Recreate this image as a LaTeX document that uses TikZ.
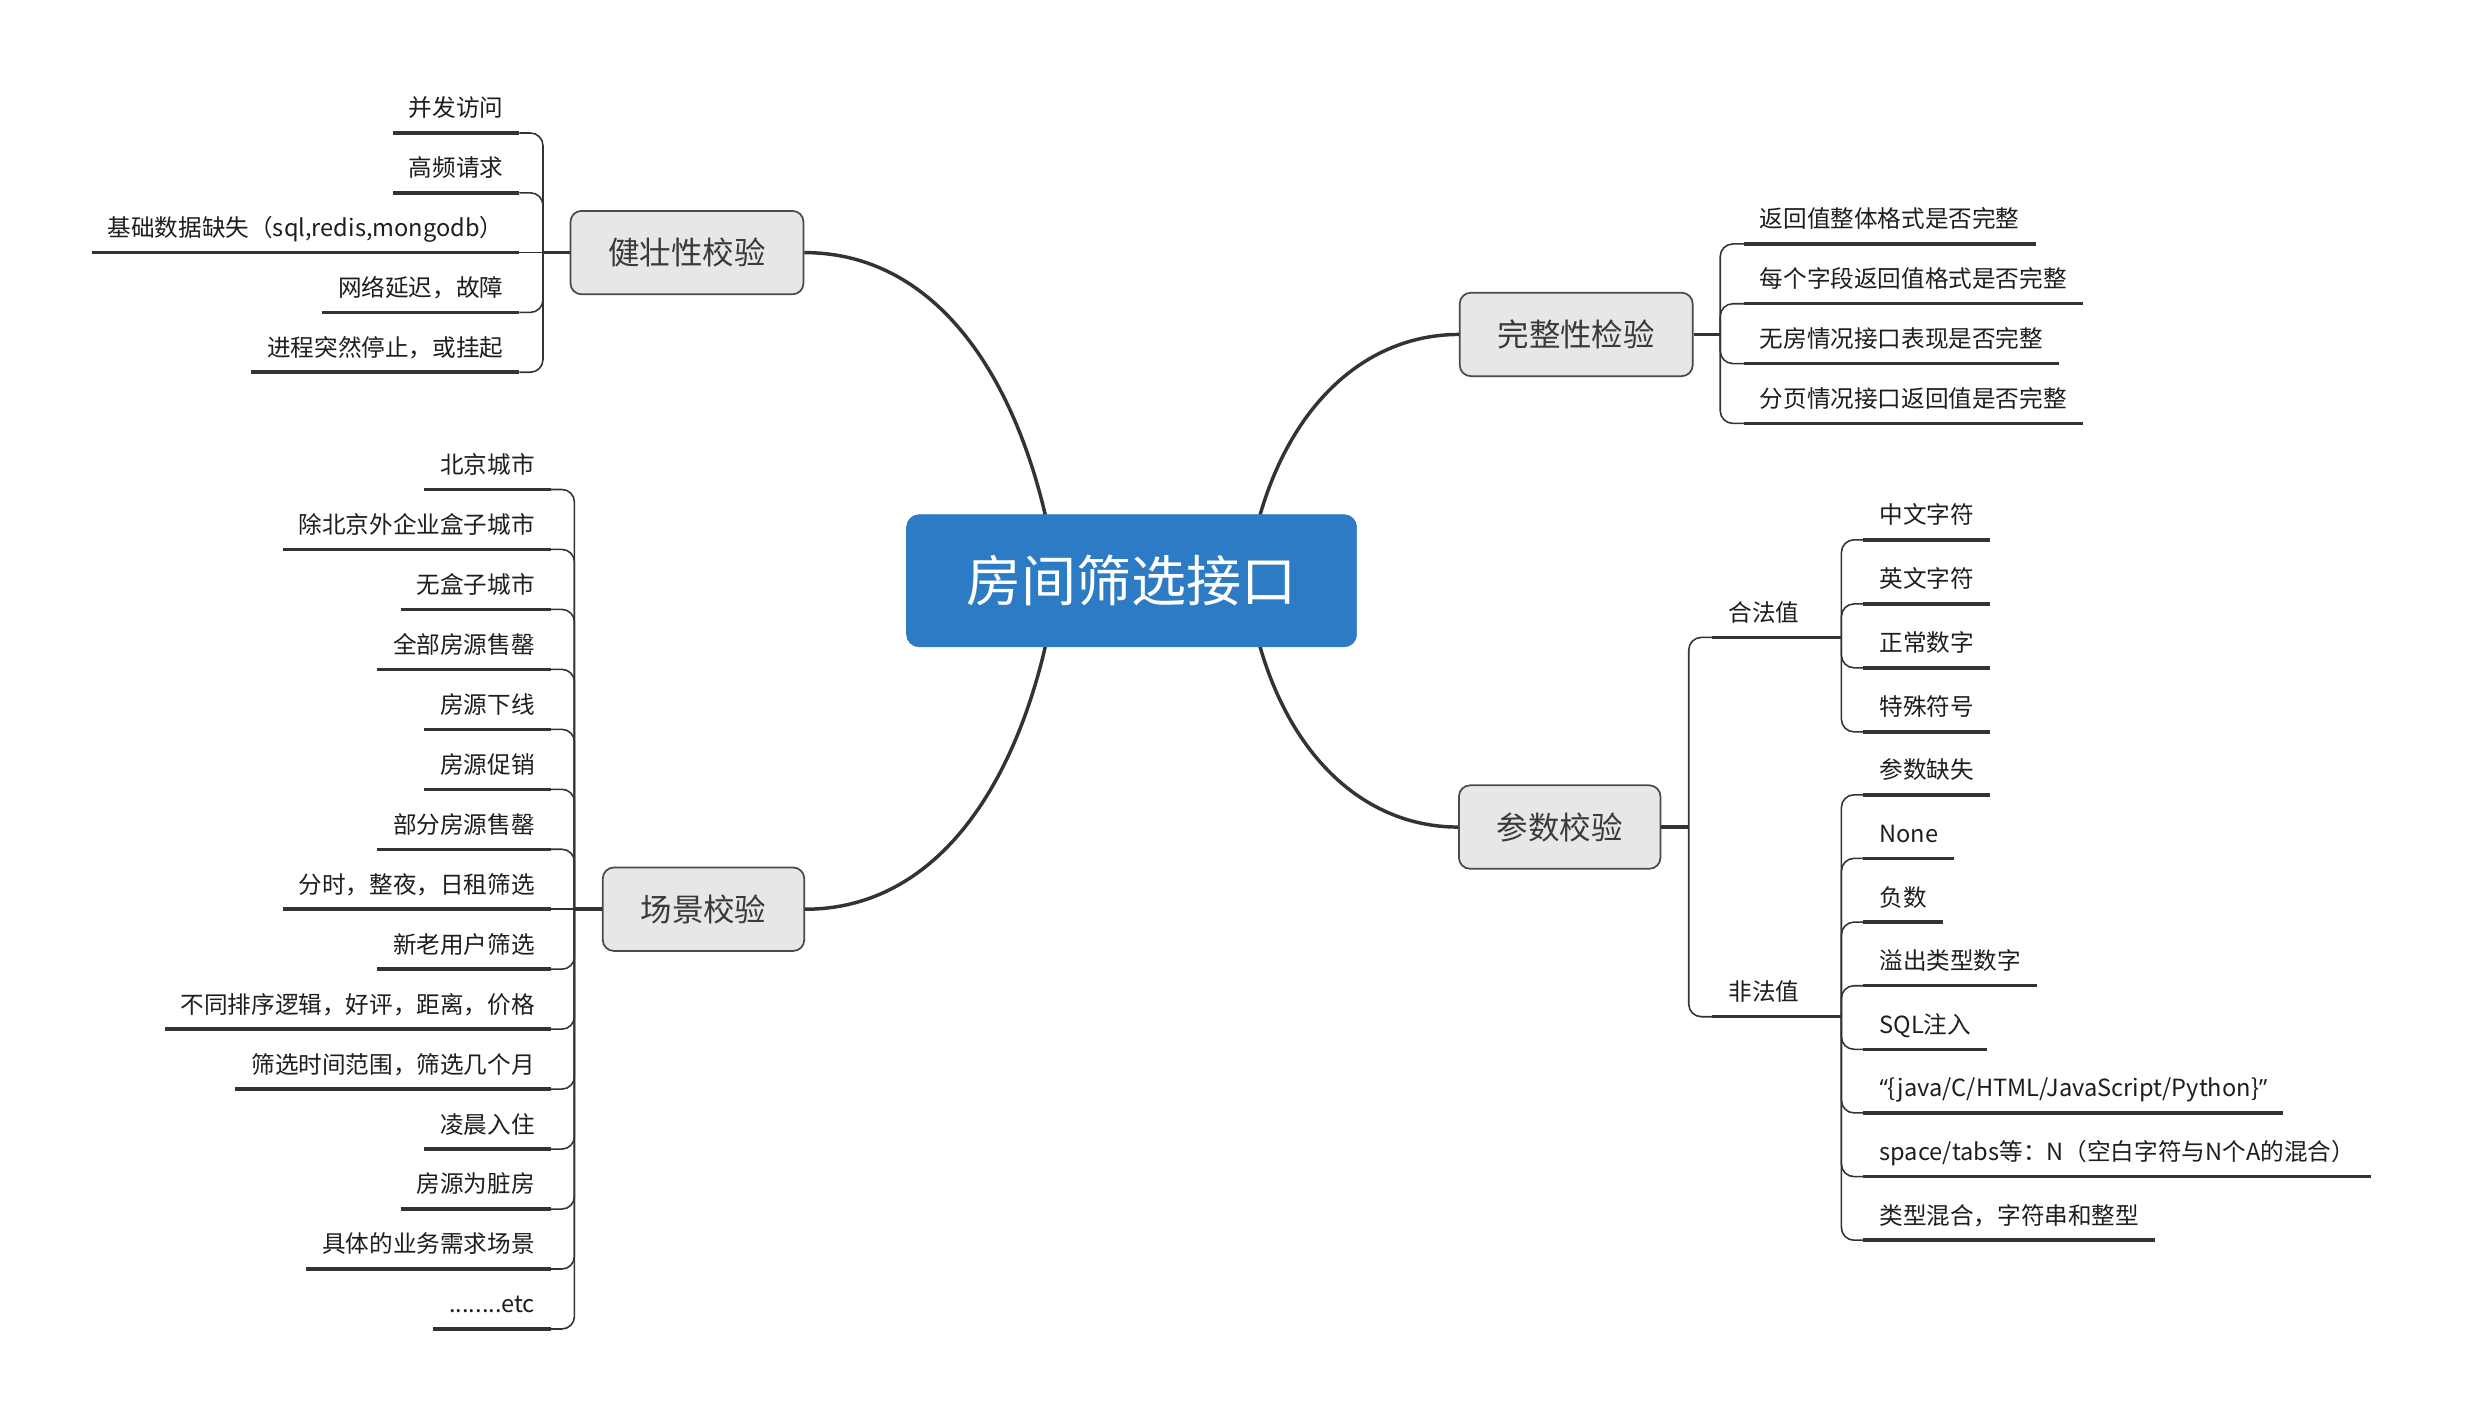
\documentclass[tikz,border=0pt]{standalone}
\usepackage{fontspec}
\setmainfont{Noto Sans CJK SC}
\newfontfamily\quotefont{Open Sans}
\usetikzlibrary{calc}
\definecolor{rootblue}{HTML}{2D7BC4}
\definecolor{linec}{HTML}{333333}
\definecolor{boxfill}{HTML}{E7E7E7}
\definecolor{boxdraw}{HTML}{4A4A4A}
\definecolor{boxtext}{HTML}{3A3A3A}
\definecolor{leaftext}{HTML}{1E1E1E}
\begin{document}
\begin{tikzpicture}[x=1pt,y=-1pt,
  rootnode/.style={draw=rootblue, fill=rootblue, rounded corners=8pt, minimum width=286pt, minimum height=84pt, text=white, font=\fontsize{35}{40}\selectfont, inner sep=0pt},
  topic/.style={draw=boxdraw, line width=1.1pt, fill=boxfill, rounded corners=7pt, minimum height=53pt, inner xsep=24pt, inner ysep=0pt, text=boxtext, font=\fontsize{20}{24}\selectfont},
  leafl/.style={anchor=south east, inner xsep=10pt, inner ysep=0pt, text height=12pt, text depth=10pt, font=\fontsize{15}{18}\selectfont, text=leaftext},
  leafr/.style={leafl, anchor=south west},
  trunk/.style={draw=linec, line width=2.2pt},
  uline/.style={draw=linec, line width=2.2pt},
  conn/.style={draw=linec, line width=1pt, rounded corners=8pt},
]
\fill[white] (0,0) rectangle (1567.5,900);
\useasboundingbox (0,0) rectangle (1567.5,900);

% topics
\node[topic] (robust) at (436.5,160.5) {健壮性校验};
\node[topic] (integ) at (1001.5,212.5) {完整性检验};
\node[topic] (param) at (991,525.5) {参数校验};
\node[topic] (scene) at (447,577.7) {场景校验};

% trunk curves (root drawn on top)
\coordinate (rootc) at (719,369);
\draw[trunk] ($(rootc)+(-47,0)$) .. controls ($(rootc)+(-64,-119)$) and ($(robust.east)+(89,0)$) .. (robust.east);
\draw[trunk] ($(rootc)+(-47,0)$) .. controls ($(rootc)+(-64,119)$) and ($(scene.east)+(89,0)$) .. (scene.east);
\draw[trunk] ($(rootc)+(73,0)$) .. controls ($(rootc)+(86,-99)$) and ($(integ.west)+(-67,0)$) .. (integ.west);
\draw[trunk] ($(rootc)+(73,0)$) .. controls ($(rootc)+(86,99)$) and ($(param.west)+(-67,0)$) .. (param.west);
\node[rootnode] (root) at (rootc) {房间筛选接口};

% robustness branch
\coordinate (jR) at (345,160.5);
\draw[uline] (robust.west) -- (jR);
\node[leafl] (r1) at (330,84.5) {并发访问};
\node[leafl] (r2) at (330,122.5) {高频请求};
\node[leafl] (r3) at (330,160.5) {基础数据缺失（sql,redis,mongodb）};
\node[leafl] (r4) at (330,198.5) {网络延迟，故障};
\node[leafl] (r5) at (330,236.5) {进程突然停止，或挂起};
\foreach \n in {r1,r2,r3,r4,r5} \draw[uline] (\n.south west) -- (\n.south east);
\foreach \n in {r1,r2,r4,r5} \draw[conn] (jR) |- (\n.south east);
\draw[conn] (jR) -- (r3.south east);

% scene branch
\coordinate (jS) at (365,577.7);
\draw[uline] (scene.west) -- (jS);
\node[leafl] (s1) at (350,311.0) {北京城市};
\node[leafl] (s2) at (350,349.1) {除北京外企业盒子城市};
\node[leafl] (s3) at (350,387.2) {无盒子城市};
\node[leafl] (s4) at (350,425.3) {全部房源售罄};
\node[leafl] (s5) at (350,463.4) {房源下线};
\node[leafl] (s6) at (350,501.5) {房源促销};
\node[leafl] (s7) at (350,539.6) {部分房源售罄};
\node[leafl] (s8) at (350,577.7) {分时，整夜，日租筛选};
\node[leafl] (s9) at (350,615.8) {新老用户筛选};
\node[leafl] (s10) at (350,653.9) {不同排序逻辑，好评，距离，价格};
\node[leafl] (s11) at (350,692.0) {筛选时间范围，筛选几个月};
\node[leafl] (s12) at (350,730.1) {凌晨入住};
\node[leafl] (s13) at (350,768.2) {房源为脏房};
\node[leafl] (s14) at (350,806.3) {具体的业务需求场景};
\node[leafl] (s15) at (350,844.4) {........etc};
\foreach \n in {s1,s2,s3,s4,s5,s6,s7,s8,s9,s10,s11,s12,s13,s14,s15} \draw[uline] (\n.south west) -- (\n.south east);
\foreach \n in {s1,s2,s3,s4,s5,s6,s7,s9,s10,s11,s12,s13,s14,s15} \draw[conn] (jS) |- (\n.south east);
\draw[conn] (jS) -- (s8.south east);

% integrity branch
\coordinate (jI) at (1093,212.5);
\draw[uline] (integ.east) -- (jI);
\node[leafr] (i1) at (1108,155) {返回值整体格式是否完整};
\node[leafr] (i2) at (1108,193) {每个字段返回值格式是否完整};
\node[leafr] (i3) at (1108,231) {无房情况接口表现是否完整};
\node[leafr] (i4) at (1108,269) {分页情况接口返回值是否完整};
\foreach \n in {i1,i2,i3,i4} {\draw[uline] (\n.south west) -- (\n.south east); \draw[conn] (jI) |- (\n.south west);}

% parameter branch
\coordinate (jP) at (1073,525.5);
\draw[uline] (param.east) -- (jP);
\node[leafr] (legal) at (1088,405) {合法值};
\node[leafr] (illegal) at (1088,646) {非法值};
\coordinate (jL) at (1170,405);
\coordinate (jIl) at (1170,646);
\draw[uline] (legal.south west) -- (jL);
\draw[uline] (illegal.south west) -- (jIl);
\draw[conn] (jP) |- (legal.south west);
\draw[conn] (jP) |- (illegal.south west);

\node[leafr] (a1) at (1184,343.0) {中文字符};
\node[leafr] (a2) at (1184,383.7) {英文字符};
\node[leafr] (a3) at (1184,424.3) {正常数字};
\node[leafr] (a4) at (1184,465.0) {特殊符号};
\foreach \n in {a1,a2,a3,a4} {\draw[uline] (\n.south west) -- (\n.south east); \draw[conn] (jL) |- (\n.south west);}

\node[leafr] (b1) at (1184,505.0) {参数缺失};
\node[leafr] (b2) at (1184,545.4) {None};
\node[leafr] (b3) at (1184,585.9) {负数};
\node[leafr] (b4) at (1184,626.3) {溢出类型数字};
\node[leafr] (b5) at (1184,666.7) {SQL注入};
\node[leafr] (b6) at (1184,707.1) {{\quotefont “}\{java/C/HTML/JavaScript/Python\}{\quotefont ”}};
\node[leafr] (b7) at (1184,747.6) {space/tabs等：N（空白字符与N个A的混合）};
\node[leafr] (b8) at (1184,788.0) {类型混合，字符串和整型};
\foreach \n in {b1,b2,b3,b4,b5,b6,b7,b8} {\draw[uline] (\n.south west) -- (\n.south east); \draw[conn] (jIl) |- (\n.south west);}
\end{tikzpicture}
\end{document}
